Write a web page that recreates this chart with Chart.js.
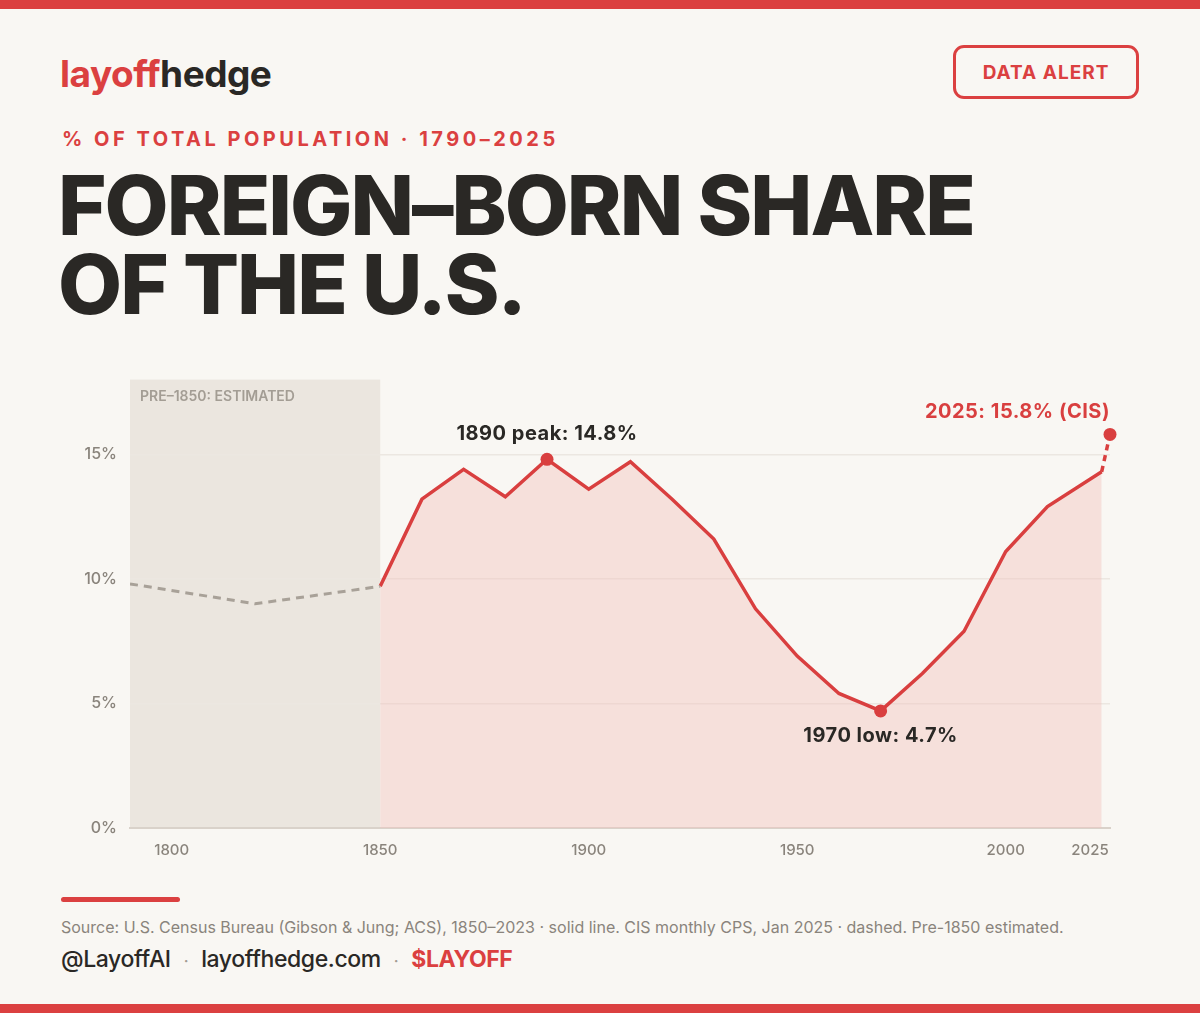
<!DOCTYPE html>
<html>
<head>
<meta charset="utf-8">
<script src="https://cdn.jsdelivr.net/npm/chart.js@4.4.1/dist/chart.umd.min.js"></script>
<style>
  html, body { margin: 0; padding: 0; }
  body {
    width: 1200px; height: 1013px; position: relative; overflow: hidden;
    background: #f9f7f3; font-family: Inter, "Noto Sans", sans-serif; color: #2a2825;
  }
  .bar { position: absolute; left: 0; width: 1200px; height: 9px; background: #db4040; }
  .logo { position: absolute; left: 60px; top: 51px; font-size: 37px; font-weight: 700; letter-spacing: -0.5px; }
  .logo .red { color: #db4040; }
  .badge {
    position: absolute; left: 953px; top: 45px; width: 180px; height: 48px;
    border: 3px solid #db4040; border-radius: 11px; color: #db4040;
    font-size: 19px; font-weight: 700; letter-spacing: 1px;
    display: flex; align-items: center; justify-content: center;
  }
  .kicker { position: absolute; left: 62px; top: 127px; font-size: 20px; font-weight: 700; letter-spacing: 3.5px; color: #db4040; }
  .title {
    position: absolute; left: 58px; top: 166px; font-size: 83px; font-weight: 800;
    line-height: 79px; letter-spacing: -2px;
  }
  #wrap { position: absolute; left: 0; top: 357px; width: 1200px; height: 523px; }
  .rule { position: absolute; left: 61px; top: 897px; width: 119px; height: 5px; border-radius: 3px; background: #db4040; }
  .source { position: absolute; left: 61px; top: 917px; font-size: 16px; color: #8a847c; }
  .handles { position: absolute; left: 61px; top: 945px; font-size: 23px; font-weight: 500; letter-spacing: -0.4px; }
  .handles .dot { color: #a39d94; padding: 0 13px; font-size: 16px; }
  .handles .tk { color: #db4040; font-weight: 700; }
</style>
</head>
<body>
<div class="bar" style="top:0"></div>
<div class="logo"><span class="red">layoff</span>hedge</div>
<div class="badge">DATA ALERT</div>
<div class="kicker">% OF TOTAL POPULATION · 1790–2025</div>
<div class="title">FOREIGN–BORN SHARE<br>OF THE U.S.</div>
<div id="wrap"><canvas id="chart"></canvas></div>
<div class="rule"></div>
<div class="source">Source: U.S. Census Bureau (Gibson &amp; Jung; ACS), 1850–2023 · solid line. CIS monthly CPS, Jan 2025 · dashed. Pre-1850 estimated.</div>
<div class="handles">@LayoffAI<span class="dot">·</span>layoffhedge.com<span class="dot">·</span><span class="tk">$LAYOFF</span></div>
<div class="bar" style="top:1004px"></div>

<script>
// pre-1850 estimates (dashed gray)
const estYears = [1790, 1820, 1850];
const estValues = [9.8, 9.0, 9.7];

// census series 1850-2023 (solid red)
const censusYears = [1850, 1860, 1870, 1880, 1890, 1900, 1910, 1920, 1930, 1940, 1950, 1960, 1970, 1980, 1990, 2000, 2010, 2023];
const censusValues = [9.7, 13.2, 14.4, 13.3, 14.8, 13.6, 14.7, 13.2, 11.6, 8.8, 6.9, 5.4, 4.7, 6.2, 7.9, 11.1, 12.9, 14.3];

// CIS 2025 estimate (dashed red)
const cisYears = [2023, 2025];
const cisValues = [14.3, 15.8];

// highlighted points
const markYears = [1890, 1970, 2025];
const markValues = [14.8, 4.7, 15.8];

const xTicks = [1800, 1850, 1900, 1950, 2000, 2025];
const yTicks = [0, 5, 10, 15];

const RED = '#d93f3f';
const GRAY = '#8a847c';

const pts = (xs, ys) => xs.map((x, i) => ({ x: x, y: ys[i] }));

const backdrop = {
  id: 'backdrop',
  beforeDraw(chart) {
    const { ctx, chartArea, scales: { x } } = chart;
    const x1 = x.getPixelForValue(1850);
    ctx.save();
    ctx.fillStyle = '#ebe6df';
    ctx.fillRect(chartArea.left, chartArea.top, x1 - chartArea.left, chartArea.bottom - chartArea.top);
    ctx.fillStyle = '#a39d94';
    ctx.font = '600 14px Inter';
    ctx.textBaseline = 'middle';
    ctx.fillText('PRE–1850: ESTIMATED', chartArea.left + 10, chartArea.top + 17);
    ctx.restore();
  }
};

const notes = {
  id: 'notes',
  afterDatasetsDraw(chart) {
    const { ctx, scales: { x, y } } = chart;
    ctx.save();
    ctx.font = '700 20px Inter';
    ctx.letterSpacing = '0.5px';
    ctx.textBaseline = 'middle';
    ctx.fillStyle = '#2a2825';
    ctx.textAlign = 'center';
    ctx.fillText('1890 peak: 14.8%', x.getPixelForValue(1890), y.getPixelForValue(14.8) - 25);
    ctx.fillText('1970 low: 4.7%', x.getPixelForValue(1970), y.getPixelForValue(4.7) + 25);
    ctx.fillStyle = RED;
    ctx.textAlign = 'right';
    ctx.fillText('2025: 15.8% (CIS)', x.getPixelForValue(2025), y.getPixelForValue(15.8) - 22);
    ctx.restore();
  }
};

new Chart(document.getElementById('chart'), {
  type: 'line',
  data: {
    datasets: [
      {
        data: pts(estYears, estValues),
        borderColor: '#a8a198',
        borderWidth: 3,
        borderDash: [8, 6],
        pointRadius: 0,
        fill: false
      },
      {
        data: pts(censusYears, censusValues),
        borderColor: RED,
        borderWidth: 3.5,
        pointRadius: 0,
        fill: 'origin',
        backgroundColor: 'rgba(242, 196, 190, 0.45)'
      },
      {
        data: pts(cisYears, cisValues),
        clip: false,
        borderColor: RED,
        borderWidth: 3.5,
        borderDash: [6, 5],
        pointRadius: 0,
        fill: false
      },
      {
        data: pts(markYears, markValues),
        order: -1,
        clip: false,
        showLine: false,
        pointRadius: 6.5,
        pointBackgroundColor: RED,
        pointBorderWidth: 0
      }
    ]
  },
  options: {
    responsive: true,
    maintainAspectRatio: false,
    animation: false,
    layout: { padding: { top: 9, right: 90, left: 0, bottom: 0 } },
    plugins: {
      legend: { display: false },
      tooltip: { enabled: false }
    },
    scales: {
      x: {
        type: 'linear',
        min: 1790,
        max: 2025,
        afterBuildTicks: scale => { scale.ticks = xTicks.map(v => ({ value: v })); },
        afterFit: scale => { scale.height = 52; },
        ticks: {
          color: GRAY,
          font: { family: 'Inter', size: 15, weight: 500 },
          padding: 5,
          maxRotation: 0,
          callback: v => v === 2025 ? '2025          ' : String(v)
        },
        grid: { display: false },
        border: { display: true, color: '#d9d2ca', width: 2 }
      },
      y: {
        min: 0,
        max: 18,
        afterBuildTicks: scale => { scale.ticks = yTicks.map(v => ({ value: v })); },
        afterFit: scale => { scale.width = 130; },
        ticks: {
          color: GRAY,
          font: { family: 'Inter', size: 16, weight: 500 },
          padding: 13,
          callback: v => v + '%'
        },
        grid: {
          color: ctx => ctx.tick && ctx.tick.value === 0 ? 'rgba(0,0,0,0)' : '#ece7e1',
          lineWidth: 1.5,
          drawTicks: false
        },
        border: { display: false }
      }
    }
  },
  plugins: [backdrop, notes]
});
</script>
</body>
</html>
